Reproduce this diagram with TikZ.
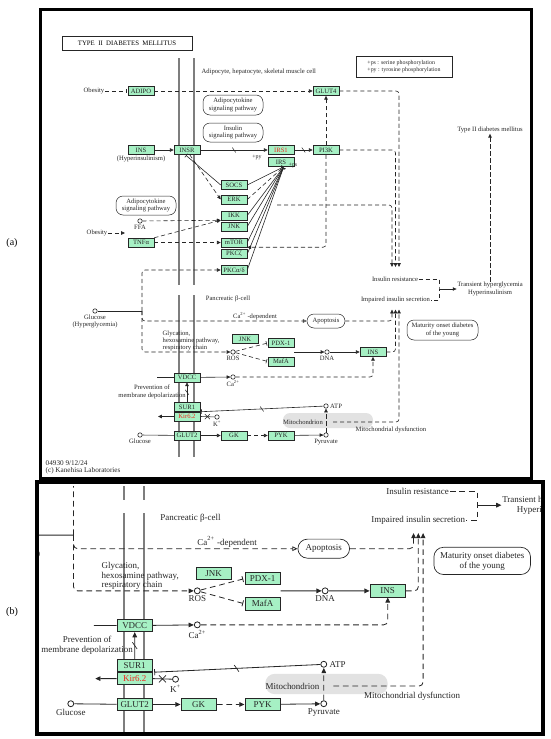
\documentclass[tikz,border=0pt]{standalone}
\usepackage{fontspec}
\setmainfont{Liberation Serif}
\usetikzlibrary{positioning,arrows.meta,calc,shapes.misc}
\definecolor{ink}{HTML}{262626}
\definecolor{gene}{HTML}{A6F0C4}
\definecolor{memb}{HTML}{7E7E7E}
\definecolor{mitog}{HTML}{E2E2E2}
\definecolor{hit}{HTML}{F0281E}
\newdimen\du \du=1pt
\def\duf{1}
\newcommand\mapfont{\fontsize{6.6}{7.3}\selectfont}
\newcommand\smallmap{\fontsize{5.9}{6.6}\selectfont}
% the KEGG map, drawn once for (a) and once, enlarged, for (b)
\newcommand\drawmap{%
% membranes
\foreach \mx in {179,194}{
  \draw[membr] (\mx,58) -- (\mx,285);
  \draw[membr] (\mx,295) -- (\mx,457);
}
\node[mitobox] (mito) at (328,420.5) {};
% headers
\node[draw=ink,line width=0.7\du,minimum width=130pt,minimum height=14pt,inner sep=0pt,
      font=\fontsize{6.8}{7}\selectfont] (title) at (127,43) {TYPE\ \ II\ \ DIABETES\ \ MELLITUS};
\node[lbl,draw=ink,line width=0.5\du,minimum width=96pt,minimum height=21pt,align=left,
      font=\smallmap] (key) at (404,66.5) {+ps : serine phosphorylation\\+py : tyrosine phosphorylation};
\node[lbl,anchor=west] (adicell) at (201,72) {Adipocyte, hepatocyte, skeletal muscle cell};
% adipocyte side
\node[gene] (adipo) at (141,91) {ADIPO};
\node[gene] (glut4) at (326,91) {GLUT4};
\node[gene] (ins) at (141,150) {INS};
\node[gene] (insr) at (187,150) {INSR};
\node[redgene] (irs1) at (281,150) {IRS1};
\node[gene] (irs) at (281,162) {IRS};
\node[gene] (pi3k) at (326,150) {PI3K};
\node[gene] (socs) at (234,185) {SOCS};
\node[gene] (erk) at (234,199.5) {ERK};
\node[gene] (ikk) at (234,215.5) {IKK};
\node[gene] (jnk) at (234,226.5) {JNK};
\node[gene] (mtor) at (234,242.5) {mTOR};
\node[gene] (pkcz) at (234,254) {PKCζ};
\node[gene] (pkcad) at (234,270) {PKCα/δ};
\node[gene] (tnfa) at (141,242.5) {TNFα};
\node[mapbox,minimum width=60pt,minimum height=20pt] (adipok) at (233,105) {Adipocytokine\\signaling pathway};
\node[mapbox,minimum width=60pt,minimum height=19pt] (inssig) at (233,132.5) {Insulin\\signaling pathway};
\node[mapbox,minimum width=60pt,minimum height=19pt] (adipok2) at (146,205.5) {Adipocytokine\\signaling pathway};
\node[lbl] (obes1) at (94,91) {Obesity};
\node[lbl,below=0.5pt of ins] (hyper) {(Hyperinsulinism)};
\node[lbl,font=\smallmap] (py) at (257,157) {+py};
\node[lbl,font=\smallmap] (ps) at (293,165.5) {+ps};
\node[mol] (ffa) at (140,221) {};
\node[lbl,below=0.5pt of ffa] (ffal) {FFA};
\node[lbl] (obes2) at (97,233) {Obesity};
\coordinate (obsend) at (125,233);
\coordinate (irsdown) at (277,205);
% outcomes
\node[lbl] (t2dm) at (490,130) {Type II diabetes mellitus};
\node[lbl] (ires) at (395,279) {Insulin resistance};
\node[lbl] (iis) at (395.5,300) {Impaired insulin secretion};
\node[lbl] (trans) at (490,289) {Transient hyperglycemia\\Hyperinsulinism};
\coordinate (brk) at (439,289);
\foreach \i/\x in {1/392,2/395.5,3/399}{
  \coordinate (ir\i) at (\x,267);
  \coordinate (is\i) at (\x,309.5);
}
\node[mapbox,minimum width=71pt,minimum height=20pt] (mody) at (442.5,330) {Maturity onset diabetes\\of the young};
% pancreatic beta-cell
\node[lbl] (pbeta) at (228,299) {Pancreatic β-cell};
\node[mol] (glch) at (95,311) {};
\node[lbl,below=0.5pt of glch] (glchl) {Glucose\\(Hyperglycemia)};
\coordinate (jn) at (142,311);
\node[lbl] (cadep) at (255,316) {Ca\textsuperscript{2+} -dependent};
\node[mapbox,minimum width=38pt,minimum height=14pt] (apop) at (326,321) {Apoptosis};
\node[lbl,align=left,anchor=west] (glyc) at (162,341) {Glycation,\\hexosamine pathway,\\respiratory chain};
\node[gene] (jnk2) at (245,339) {JNK};
\node[gene] (pdx) at (281,343) {PDX-1};
\node[gene] (mafa) at (281,361.5) {MafA};
\node[mol] (ros) at (233,352) {};
\node[lbl,below=0.5pt of ros] (rosl) {ROS};
\node[mol] (dna) at (327,352) {};
\node[lbl,below=0.5pt of dna] (dnal) {DNA};
\node[gene] (ins2) at (373,352) {INS};
\node[gene] (vdcc) at (187,377.5) {VDCC};
\coordinate (vdccin) at (157,377.5);
\node[mol] (ca) at (233,377) {};
\node[lbl,below=0.5pt of ca] (cal) {Ca\textsuperscript{2+}};
\node[lbl] (prev) at (152,392) {Prevention of\\membrane depolarization};
\node[gene] (sur) at (187,407) {SUR1};
\node[redgene] (kir) at (187,416.5) {Kir6.2};
\coordinate (kout) at (158,416.5);
\node[mol] (kion) at (217,417) {};
\node[lbl,below=1pt of kion] (kl) {K\textsuperscript{+}};
\node[mol] (atp) at (326,406) {};
\node[lbl,right=1pt of atp] (atpl) {ATP};
\node[lbl] (mitol) at (303,422) {Mitochondrion};
\node[lbl] (mdysl) at (391,429.5) {Mitochondrial dysfunction};
\coordinate (mdys) at (333,422);
\node[mol] (glc) at (140,435) {};
\node[lbl,below=0.5pt of glc] (glcl) {Glucose};
\node[gene] (glut2) at (187,435.5) {GLUT2};
\node[gene] (gk) at (234,435.5) {GK};
\node[gene] (pyk) at (281,435.5) {PYK};
\node[mol] (pyr) at (326,435) {};
\node[lbl,below=0.5pt of pyr] (pyrl) {Pyruvate};
\node[lbl,align=left,anchor=west,font=\fontsize{7.2}{7.6}\selectfont] (stamp) at (45,467.5) {04930 9/12/24\\(c) Kanehisa Laboratories};
% adipocyte links
\draw[dinh] (obes1) -- (adipo);
\draw[dact] (adipo) -- (glut4);
\draw[dact] (pi3k) -- (glut4);
\draw[act] (ins) -- (insr);
\draw[act] (insr) -- node[brkm]{} (irs1);
\draw[act] (irs1) -- node[brkm]{} (pi3k);
\draw[sinh] (socs.west) -- (insr.-110);
\draw[dact] (insr.-60) -- (erk.west);
\foreach \g in {socs,ikk,jnk,mtor,pkcz,pkcad}
  \draw[sinh] (\g.east) -- (irs.-60);
\draw[dinh] (erk.east) -- (irs.-60);
\draw[dact] (ffa) -- (ikk.south west);
\draw[dact] (tnfa.north east) -- (ikk.south west);
\draw[dact] (tnfa) -- (mtor);
\draw[dact] (obes2) -- (obsend);
\draw[dact,rounded corners=3\du] (pi3k) |- (mtor.south east);
\draw[dact,rounded corners=3\du] (glut4) -| (ir3);
\draw[dact,rounded corners=3\du] (pi3k) -| (ir2);
\draw[dact,rounded corners=3\du] (irsdown) -| (ir1);
% outcome links
\draw[dline] (ires) -| (brk) |- (iis);
\draw[act] (brk) -- (trans.west |- brk);
\draw[dact] (trans) -- (t2dm);
% beta-cell links
\draw[sline] (glch) -- (jn);
\draw[dact,rounded corners=3\du] (jn) |- (pkcad);
\draw[dact,rounded corners=3\du] (jn) |- (ros);
\draw[dline,-{Triangle[open,length=3.8pt,width=3.4pt,scale=\duf]},rounded corners=3\du] (jn) |- (apop);
\draw[dact,rounded corners=3\du] (apop) -| (is1);
\draw[dact,rounded corners=3\du] (ins2) -| (is2);
\draw[dact,rounded corners=3\du] (mdys) -| (is3);
\draw[dinh] (ros) -- (pdx.west);
\draw[dinh] (ros) -- (mafa.west);
\draw[act] (pdx.east |- dna) -- (dna);
\draw[act] (dna) -- (ins2);
\draw[sline] (vdccin) -- (vdcc);
\draw[act] (vdcc) -- (ca);
\draw[dact,rounded corners=3\du] (ca) -| (ins2);
\draw[act] (sur) -- node[brkm]{} (vdcc);
\draw[act] (kir) -- (kout);
\draw[sline] (kion) -- node[xmk]{} (kir.east);
\draw[sinh] (atp) -- node[brkm]{} (sur.south east);
\draw[sline] (glc) -- (glut2);
\draw[act] (glut2) -- (gk);
\draw[dact] (gk) -- (pyk);
\draw[act] (pyk) -- (pyr);
\draw[dact] (pyr) -- (atp);
}
\begin{document}
\begin{tikzpicture}[
  x=1pt,y=-1pt,
  lbl/.style={font=\mapfont,inner sep=0.5pt,align=center,text=ink},
  gene/.style={draw=ink,line width=0.5\du,fill=gene,minimum width=26pt,minimum height=9pt,
               inner sep=0pt,font=\mapfont,text=ink},
  redgene/.style={gene,text=hit},
  mol/.style={circle,draw=ink,line width=0.6\du,fill=white,minimum size=4.4pt,inner sep=0pt},
  mapbox/.style={draw=ink,line width=0.5\du,rounded corners=7\du,align=center,font=\mapfont,
                 inner sep=0pt,text=ink},
  mitobox/.style={fill=mitog,rounded corners=7\du,minimum width=90pt,minimum height=15pt,inner sep=0pt},
  membr/.style={draw=memb,line width=1.6\du},
  sline/.style={draw=ink,line width=0.6\du},
  dline/.style={sline,dash pattern=on 4.2\du off 2.8\du},
  act/.style={sline,-{Triangle[length=3.8pt,width=3.4pt,scale=\duf]}},
  dact/.style={act,dash pattern=on 4.2\du off 2.8\du},
  sinh/.style={sline,-{Bar[width=4.5pt,scale=\duf]},shorten >=1\du},
  dinh/.style={sinh,dash pattern=on 4.2\du off 2.8\du},
  brkm/.style={draw=ink,line width=0.5\du,minimum height=6pt,minimum width=0pt,inner sep=0pt,rotate=35},
  xmk/.style={draw=ink,cross out,line width=0.5\du,minimum size=4.5pt,inner sep=0pt},
]
\useasboundingbox (0,0) rectangle (550,739);
% panel (a): the whole map
\drawmap
\draw[line width=3pt] (40,9) rectangle (531,478);
\node[font=\fontsize{10}{12}\selectfont] (laba) at (12,243) {(a)};
% panel (b): the beta-cell part, enlarged
\begin{scope}
  \clip (37,486.5) rectangle (543,734);
  \begin{scope}[shift={(-119.6,112.1)},scale=1.36,transform shape]
    \du=1.36pt \def\duf{1.36}
    \drawmap
  \end{scope}
\end{scope}
\draw[line width=3.5pt] (37,482) rectangle (543,734);
\node[font=\fontsize{10}{12}\selectfont] (labb) at (12,612) {(b)};
\end{tikzpicture}
\end{document}
